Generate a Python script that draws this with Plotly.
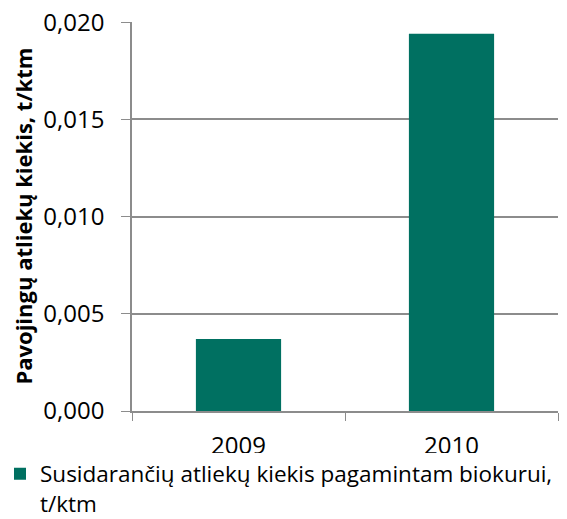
import plotly.graph_objects as go

years = ["2009", "2010"]
values = [0.0037, 0.0194]
series_name = "Susidarančių atliekų kiekis pagamintam biokurui,<br>t/ktm"
y_title = "Pavojingų atliekų kiekis, t/ktm"
y_ticks = [0.0, 0.005, 0.010, 0.015, 0.020]
y_tick_labels = ["0,000", "0,005", "0,010", "0,015", "0,020"]

font = "Open Sans"
grid = "#8c8c8c"

fig = go.Figure(
    go.Bar(
        x=years,
        y=values,
        name=series_name,
        marker=dict(color="#007061", line=dict(width=0)),
        showlegend=True,
    )
)

fig.update_layout(
    width=567,
    height=519,
    margin=dict(l=132, r=9, t=22, b=108),
    plot_bgcolor="white",
    paper_bgcolor="white",
    bargap=0.6,
    font=dict(family=font, size=24, color="#000000"),
    legend=dict(
        orientation="h",
        xref="container",
        yref="container",
        x=-0.008,
        y=0.128,
        yanchor="top",
        valign="top",
        font=dict(size=22.5),
        itemwidth=30,
        tracegroupgap=0,
    ),
    annotations=[
        dict(
            text=f"<b>{y_title}</b>",
            xref="paper",
            yref="paper",
            x=-0.258,
            y=0.5,
            xanchor="center",
            yanchor="middle",
            textangle=-90,
            showarrow=False,
            font=dict(size=22),
        )
    ],
)

fig.update_xaxes(
    type="category",
    automargin=False,
    showline=True,
    linecolor=grid,
    linewidth=1.5,
    ticks="outside",
    ticklen=8,
    tickcolor=grid,
    tickson="boundaries",
    showgrid=False,
    ticklabelstandoff=12,
)

fig.update_yaxes(
    range=[0, 0.02001],
    automargin=False,
    tickvals=y_ticks,
    ticktext=y_tick_labels,
    ticklabeloverflow="allow",
    showline=True,
    linecolor=grid,
    linewidth=1.5,
    ticks="outside",
    ticklen=9,
    tickcolor=grid,
    showgrid=True,
    gridcolor=grid,
    gridwidth=1.5,
    zeroline=False,
    ticklabelstandoff=12,
)

# drop the browser's default body margin so the figure fills the window
fig.write_html(
    "out.html",
    config={"displayModeBar": False},
    post_script="document.body.style.margin = '0';",
)
